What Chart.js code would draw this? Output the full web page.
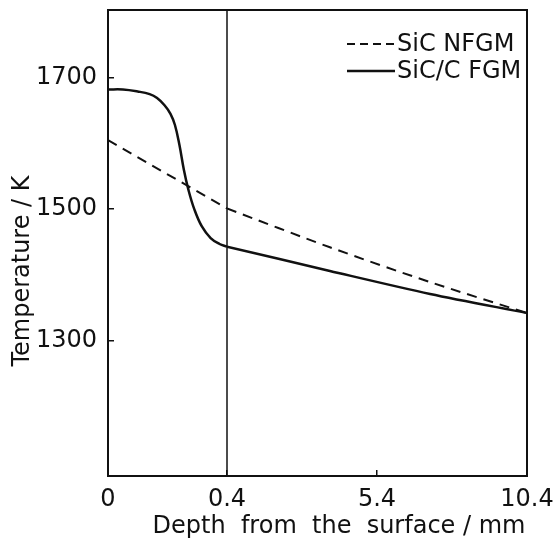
<!DOCTYPE html>
<html>
<head>
<meta charset="utf-8">
<script src="https://cdn.jsdelivr.net/npm/chart.js@4.4.0/dist/chart.umd.min.js"></script>
<style>
  html, body { margin: 0; padding: 0; background: #fff; }
  #wrap { width: 553px; height: 545px; }
</style>
</head>
<body>
<div id="wrap"><canvas id="chart"></canvas></div>
<script>
// depth (mm) vs temperature (K)
// surface layer 0..0.4 mm is drawn stretched, core 0.4..10.4 mm compressed
const fgmDepthSurface = [0, 0.05, 0.1, 0.14, 0.165, 0.19, 0.21, 0.225, 0.24, 0.255, 0.27, 0.29, 0.315, 0.345, 0.375, 0.4]
const fgmTempSurface  = [1682, 1682, 1679, 1675, 1669, 1658, 1645, 1628, 1598, 1560, 1530, 1500, 1474, 1456, 1447, 1443]
const fgmDepthCore = [0.4, 3.83, 7.17, 10.4]
const fgmTempCore  = [1443, 1406, 1371, 1342]

const nfgmDepthSurface = [0, 0.2, 0.4]
const nfgmTempSurface  = [1605, 1553, 1501]
const nfgmDepthCore = [0.4, 3.83, 7.17, 10.4]
const nfgmTempCore  = [1501, 1442, 1389, 1342]

const seriesNames = ['SiC NFGM', 'SiC/C FGM']
const yTicks = [1300, 1500, 1700]
const xTicksSurface = [0]
const xTicksCore = [0.4, 5.4, 10.4]
const xTitle = 'Depth  from  the  surface / mm'
const yTitle = 'Temperature / K'

const ink = '#111'
const FONT = 'DejaVu Sans'
Chart.defaults.font.family = FONT
Chart.defaults.font.size = 24
Chart.defaults.color = ink

function pts(xs, ys){
  return xs.map((x, i) => ({x: x, y: ys[i]}))
}

function line(label, data, xAxis, dashed, tension){
  return {
    label: label,
    data: data,
    xAxisID: xAxis,
    yAxisID: 'y',
    borderColor: ink,
    borderWidth: dashed ? 2 : 2.5,
    borderDash: dashed ? [10, 7] : [],
    pointRadius: 0,
    tension: tension || 0,
    fill: false
  }
}

// no extra room for overhanging labels, the box is placed by hand
function noPad(s){
  s.paddingLeft = 0; s.paddingRight = 0
  s.paddingTop = 0; s.paddingBottom = 0
}

// frame, 0.4 mm divider, legend and axis titles
const decor = {
  id: 'decor',
  afterDatasetsDraw(chart){
    const {ctx, chartArea: a, scales} = chart
    ctx.save()
    ctx.strokeStyle = ink
    ctx.fillStyle = ink
    ctx.lineWidth = 2
    ctx.strokeRect(a.left, a.top, a.width, a.height)

    const xd = scales.x2.getPixelForValue(0.4)
    ctx.lineWidth = 1.5
    ctx.beginPath()
    ctx.moveTo(xd, a.top)
    ctx.lineTo(xd, a.bottom)
    ctx.stroke()

    // legend
    ctx.font = '24px ' + FONT
    ctx.textBaseline = 'middle'
    ctx.textAlign = 'left'
    const textX = a.right - 130
    const rows = [{y: a.top + 34, dash: [8, 5], w: 2}, {y: a.top + 61, dash: [], w: 2.5}]
    seriesNames.forEach((name, i) => {
      const r = rows[i]
      ctx.lineWidth = r.w
      ctx.setLineDash(r.dash)
      ctx.beginPath()
      ctx.moveTo(textX - 50, r.y)
      ctx.lineTo(textX - 2, r.y)
      ctx.stroke()
      ctx.setLineDash([])
      ctx.fillText(name, textX, r.y + 1)
    })

    // axis titles
    ctx.textAlign = 'center'
    ctx.fillText(xTitle, 339, 527)
    ctx.translate(23, 271)
    ctx.rotate(-Math.PI / 2)
    ctx.fillText(yTitle, 0, 0)
    ctx.restore()
  }
}

const gridOpts = {
  drawOnChartArea: false,
  tickLength: -6,
  color: ink,
  lineWidth: 1.5
}

new Chart(document.getElementById('chart'), {
  type: 'line',
  data: {
    datasets: [
      line(seriesNames[0], pts(nfgmDepthSurface, nfgmTempSurface), 'x1', true),
      line(seriesNames[0], pts(nfgmDepthCore, nfgmTempCore), 'x2', true, 0.3),
      line(seriesNames[1], pts(fgmDepthSurface, fgmTempSurface), 'x1', false, 0.4),
      line(seriesNames[1], pts(fgmDepthCore, fgmTempCore), 'x2', false, 0.3)
    ]
  },
  options: {
    responsive: true,
    maintainAspectRatio: false,
    animation: false,
    layout: { padding: { top: 10, right: 26, left: 0, bottom: 0 } },
    plugins: {
      legend: { display: false },
      tooltip: { enabled: false }
    },
    scales: {
      x1: {
        type: 'linear', position: 'bottom', stack: 'x', stackWeight: 119,
        min: 0, max: 0.4,
        afterBuildTicks: s => { s.ticks = xTicksSurface.map(v => ({value: v})) },
        afterFit: s => { s.height = 69; noPad(s) },
        ticks: { autoSkip: false, maxRotation: 0, padding: 15, callback: v => String(v) },
        grid: gridOpts,
        border: { display: false }
      },
      x2: {
        type: 'linear', position: 'bottom', stack: 'x', stackWeight: 300,
        min: 0.4, max: 10.4,
        afterBuildTicks: s => { s.ticks = xTicksCore.map(v => ({value: v})) },
        afterFit: s => { s.height = 69; noPad(s) },
        ticks: { autoSkip: false, maxRotation: 0, padding: 15, callback: v => String(v) },
        grid: gridOpts,
        border: { display: false }
      },
      y: {
        type: 'linear', position: 'left',
        min: 1094, max: 1803,
        afterBuildTicks: s => { s.ticks = yTicks.map(v => ({value: v})) },
        afterFit: s => { s.width = 108; noPad(s) },
        ticks: { padding: 17, callback: v => String(v) },
        grid: gridOpts,
        border: { display: false }
      }
    }
  },
  plugins: [decor]
})
</script>
</body>
</html>
